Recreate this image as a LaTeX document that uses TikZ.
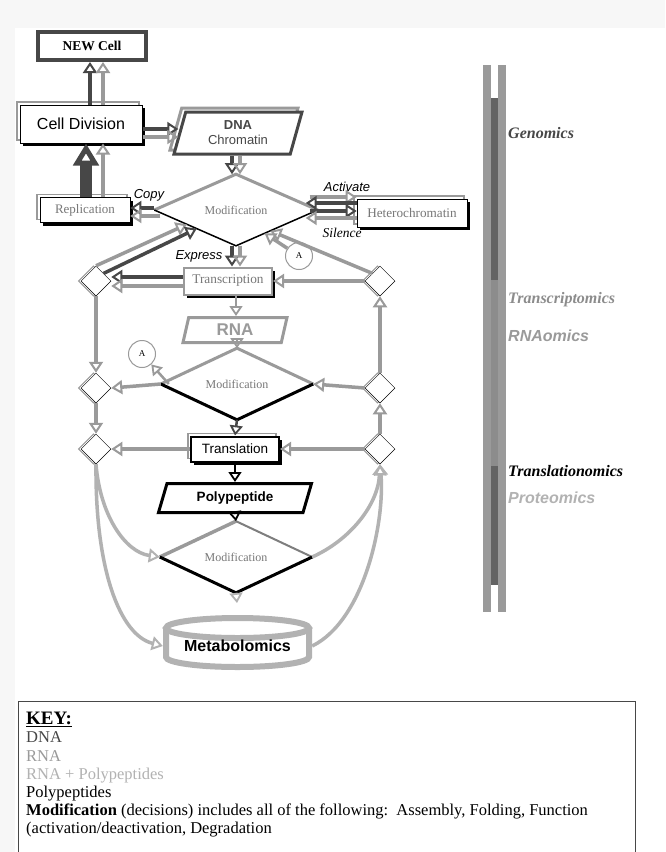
\documentclass[tikz,border=0pt]{standalone}
\usepackage{fontspec}
\setmainfont{Liberation Serif}
\setsansfont{Liberation Sans}
\usetikzlibrary{arrows.meta,shapes.geometric,shadows,calc}

\definecolor{dnacol}{HTML}{474747}
\definecolor{rnacol}{HTML}{9A9A9A}
\definecolor{rpcol}{HTML}{B2B2B2}
\definecolor{txtgray}{HTML}{777777}
\definecolor{barmid}{HTML}{8C8C8C}

\tikzset{
  shade box/.style={rectangle, fill=white, inner sep=0pt,
    general shadow={shadow xshift=-3pt, shadow yshift=3pt, draw=rnacol, line width=1.5pt, fill=white},
    general shadow={shadow xshift=3pt, shadow yshift=-3pt, fill=black}},
  decision/.style={diamond, draw=black, line width=0.5pt, fill=white,
    minimum width=30pt, minimum height=30pt, inner sep=0pt,
    general shadow={shadow xshift=-2.5pt, draw=rnacol, line width=1pt, fill=white}},
  modnode/.style={diamond, fill=white, inner sep=0pt, text=txtgray,
    font=\fontsize{12}{12}\selectfont},
  para/.style={trapezium, trapezium stretches body, fill=white, inner sep=0pt},
  flow/.style={line width=3.5pt, -{Triangle[open, length=11pt, width=14pt, line width=2pt]}},
  thin flow/.style={line width=2.5pt, -{Triangle[open, length=10pt, width=13pt, line width=1.8pt]}},
  omic/.style={anchor=west, inner sep=0pt, font=\fontsize{16}{16}\selectfont\bfseries\itshape},
  verb/.style={inner sep=0pt, font=\fontsize{13}{13}\selectfont\sffamily\itshape},
  anode/.style={circle, draw=rnacol, line width=1pt, fill=white, minimum size=27pt,
    inner sep=0pt, font=\fontsize{9}{9}\selectfont},
}

\begin{document}
\begin{tikzpicture}[x=1pt, y=-1pt]
  \useasboundingbox (0,0) rectangle (665,852);
  \fill[black!3] (0,0) rectangle (665,852);
  \fill[white] (15,28) rectangle (665,852);

  % omics bars
  \fill[rnacol] (483,65) rectangle (491,612);
  \fill[rnacol] (498,65) rectangle (506,612);
  \fill[dnacol!85] (491,98) rectangle (498,280);
  \fill[barmid] (491,280) rectangle (498,466);
  \fill[dnacol!85] (491,466) rectangle (498,585);

  \node[omic, text=dnacol] (genomics) at (508,133) {Genomics};
  \node[omic, text=barmid] (transcriptomics) at (508,300) {Transcriptomics};
  \node[omic, text=rnacol, font=\fontsize{16}{16}\selectfont\sffamily\bfseries\itshape] (rnaomics) at (508,336) {RNAomics};
  \node[omic, text=black] (translationomics) at (508,471) {Translationomics};
  \node[omic, text=rpcol, font=\fontsize{16}{16}\selectfont\sffamily\bfseries\itshape] (proteomics) at (508,498) {Proteomics};

  % main boxes
  \node[draw=dnacol, line width=4pt, minimum width=108pt, minimum height=28pt,
    font=\fontsize{13.5}{13.5}\selectfont\bfseries] (newcell) at (92,46) {NEW Cell};
  \node[shade box, draw=black, line width=1pt, minimum width=122pt, minimum height=38pt,
    font=\fontsize{16}{16}\selectfont\sffamily] (celldiv) at (81,124) {Cell Division};
  \node[para, trapezium left angle=64, trapezium right angle=116, draw=dnacol, line width=3pt,
    minimum width=128pt, minimum height=42pt, align=center, text=dnacol,
    font=\fontsize{13}{15}\selectfont\sffamily,
    general shadow={shadow xshift=-4pt, shadow yshift=4pt, draw=rnacol, line width=3pt, fill=white}]
    (dna) at (238,133) {\bfseries DNA\\Chromatin};
  \node[modnode, minimum width=163pt, minimum height=44pt] (mod1) at (236,210) {Modification};
  \node[shade box, draw=black, line width=0.6pt, minimum width=90pt, minimum height=25pt,
    text=txtgray, font=\fontsize{13}{13}\selectfont] (repl) at (85,210) {Replication};
  \node[shade box, draw=black, line width=0.6pt, minimum width=110pt, minimum height=28pt,
    text=txtgray, font=\fontsize{13.2}{13.2}\selectfont] (hetero) at (412,213) {Heterochromatin};
  \node[rectangle, fill=white, draw=rnacol, line width=2pt, minimum width=88pt, minimum height=27pt,
    text=txtgray, font=\fontsize{13.3}{13.3}\selectfont,
    general shadow={shadow xshift=3pt, shadow yshift=-3pt, fill=black}] (transc) at (228,281) {Transcription};
  \node[para, trapezium left angle=64, trapezium right angle=116, draw=rnacol, line width=3pt,
    minimum width=104pt, minimum height=25pt, text=rnacol,
    font=\fontsize{17}{17}\selectfont\sffamily\bfseries] (rna) at (235,330) {RNA};
  \node[modnode, minimum width=152pt, minimum height=45pt] (mod2) at (237,384) {Modification};
  \node[shade box, draw=black, line width=2pt, minimum width=88pt, minimum height=25pt,
    font=\fontsize{13.5}{13.5}\selectfont\sffamily] (transl) at (235,449) {Translation};
  \node[para, trapezium left angle=56, trapezium right angle=124, draw=black, line width=3pt,
    minimum width=153pt, minimum height=29pt,
    font=\fontsize{13.5}{13.5}\selectfont\sffamily\bfseries] (poly) at (235,498) {Polypeptide};
  \node[modnode, minimum width=152pt, minimum height=45pt] (mod3) at (236,557) {Modification};

  % metabolomics drum
  \draw[rpcol, line width=6pt, fill=white] (166,628) -- (166,657)
    arc[start angle=180, end angle=0, x radius=71.5, y radius=10] -- (309,628);
  \draw[rpcol, line width=6pt, fill=white] (237.5,628) ellipse [x radius=71.5, y radius=10];
  \node[minimum width=149pt, minimum height=30pt, inner sep=0pt,
    font=\fontsize{16}{16}\selectfont\sffamily\bfseries] (metab) at (237.5,646) {Metabolomics};

  % decision points
  \node[decision] (L1) at (96,281) {};
  \node[decision] (L2) at (96,388) {};
  \node[decision] (L3) at (96,449) {};
  \node[decision] (R1) at (380,281) {};
  \node[decision] (R2) at (380,388) {};
  \node[decision] (R3) at (380,449) {};
  \node[anode] (a1) at (299,256) {A};
  \node[anode] (a2) at (142,354) {A};
  \coordinate (mod3out) at (237,603);

  % diamond edges
  \draw[rnacol, line width=3pt] (mod1.west) -- (mod1.north) -- (mod1.east);
  \draw[black, line width=1.5pt] (mod1.west) -- (mod1.south) -- (mod1.east);
  \draw[rnacol, line width=3pt] (mod2.west) -- (mod2.north) -- (mod2.east);
  \draw[black, line width=3pt] (mod2.west) -- (mod2.south) -- (mod2.east);
  \draw[rnacol, line width=3.5pt] (mod3.west) -- (mod3.north);
  \draw[dnacol!70, line width=2pt] (mod3.north) -- (mod3.east);
  \draw[black, line width=3pt] (mod3.west) -- (mod3.south) -- (mod3.east);

  % labels
  \node[verb] (copy) at (149,195) {Copy};
  \node[verb] (activate) at (347,187) {Activate};
  \node[verb, font=\fontsize{13.5}{13.5}\selectfont\itshape] (silence) at (342,233) {Silence};
  \node[verb] (express) at (199,256) {Express};

  % connectors
  \begin{scope}
    \draw[flow, dnacol] (90,0 |- celldiv.north) -- (90,0 |- newcell.south);
    \draw[flow, rnacol] (103,0 |- celldiv.north) -- (103,0 |- newcell.south);
    \draw[dnacol, line width=12pt, -{Triangle[open, length=22pt, width=25pt, line width=5pt]}]
      (86,0 |- repl.north) -- (86,0 |- celldiv.south);
    \draw[flow, rnacol] (103,0 |- repl.north) -- (103,0 |- celldiv.south);
    \draw[flow, dnacol] (celldiv.east |- 0,129) -- (dna.west |- 0,129);
    \draw[flow, rnacol] (celldiv.east |- 0,137) -- (dna.west |- 0,137);
    \draw[flow, dnacol] (232,0 |- dna.south) -- (232,0 |- mod1.north);
    \draw[flow, rnacol] (240,0 |- dna.south) -- (240,0 |- mod1.north);
    \draw[flow, dnacol] (mod1.west |- 0,208) -- (repl.east |- 0,208);
    \draw[flow, rnacol] ([xshift=6pt]mod1.west |- 0,216) -- (repl.east |- 0,216);
    \draw[flow, rnacol] ([xshift=-8pt]mod1.east |- 0,197) -- (hetero.west |- 0,197);
    \draw[flow, dnacol] (hetero.west |- 0,203) -- ([xshift=-12pt]mod1.east |- 0,203);
    \draw[flow, dnacol] ([xshift=-8pt]mod1.east |- 0,211) -- (hetero.west |- 0,211);
    \draw[flow, rnacol] (hetero.west |- 0,218) -- ([xshift=-12pt]mod1.east |- 0,218);
    \draw[flow, dnacol] (232,0 |- mod1.south) -- (232,0 |- transc.north);
    \draw[flow, rnacol] (240,0 |- mod1.south) -- (240,0 |- transc.north);
    \draw[flow, dnacol] (transc.west |- 0,277) -- (L1.east |- 0,277);
    \draw[flow, rnacol] (transc.west |- 0,286) -- (L1.east |- 0,286);
    \draw[flow, rnacol] (L1.north) -- ($(mod1.west)!0.4!(mod1.south)$);
    \draw[flow, dnacol] (L1.north east) -- ($(mod1.west)!0.52!(mod1.south)$);
    \draw[flow, rnacol] (R1.north west) -- ($(mod1.south)!0.42!(mod1.east)$);
    \draw[flow, rnacol] (a1) -- ($(mod1.south)!0.35!(mod1.east)$);
    \draw[flow, rnacol] (R1.west) -- (transc.east);
    \draw[flow, rnacol] (R2.north) -- (R1.south);
    \draw[flow, rnacol] (L1.south) -- (L2.north);
    \draw[thin flow, rnacol] (236,0 |- transc.south) -- (236,0 |- rna.north);
    \draw[thin flow, rnacol] (237,0 |- rna.south) -- (mod2.north);
    \draw[thin flow, rnacol] ([xshift=8pt]mod2.west) -- (a2);
    \draw[flow, rnacol] (mod2.west) -- (L2.east);
    \draw[flow, rnacol] (R2.west) -- (mod2.east);
    \draw[flow, rnacol] (L2.south) -- (L3.north);
    \draw[flow, rnacol] (R3.north) -- (R2.south);
    \draw[thin flow, dnacol] (mod2.south) -- (transl.north);
    \draw[flow, rnacol] (transl.west) -- (L3.east);
    \draw[flow, rnacol] (R3.west) -- (transl.east);
    \draw[thin flow, black] (transl.south) -- (235,0 |- poly.north);
    \draw[thin flow, black] (235,0 |- poly.south) -- (mod3.north);
    \draw[thin flow, rpcol] (mod3.south) -- (mod3out);
    \draw[flow, rpcol] (L3.south) .. controls (100,515) and (125,552) .. (mod3.west);
    \draw[flow, rpcol] (L3.south) .. controls (95,570) and (120,635) .. (metab.west);
    \draw[flow, rpcol] (mod3.east) .. controls (350,540) and (378,505) .. (R3.south);
    \draw[flow, rpcol] (metab.east) .. controls (365,620) and (385,520) .. (R3.south);
  \end{scope}

  % key
  \draw[dnacol, line width=1pt] (18,853) -- (18,701) -- (635,701) -- (635,853);
  \node[anchor=north west, align=left, inner sep=0pt, font=\fontsize{16.5}{18.2}\selectfont]
    (keytext) at (26,712) {{\fontsize{19}{18.2}\selectfont\bfseries\underline{KEY:}}\\
    \textcolor{dnacol}{DNA}\\
    \textcolor{rnacol}{RNA}\\
    \textcolor{rpcol}{RNA + Polypeptides}\\
    Polypeptides\\
    \textbf{Modification} (decisions) includes all of the following:\ \ Assembly, Folding, Function\\
    (activation/deactivation, Degradation};
\end{tikzpicture}
\end{document}
